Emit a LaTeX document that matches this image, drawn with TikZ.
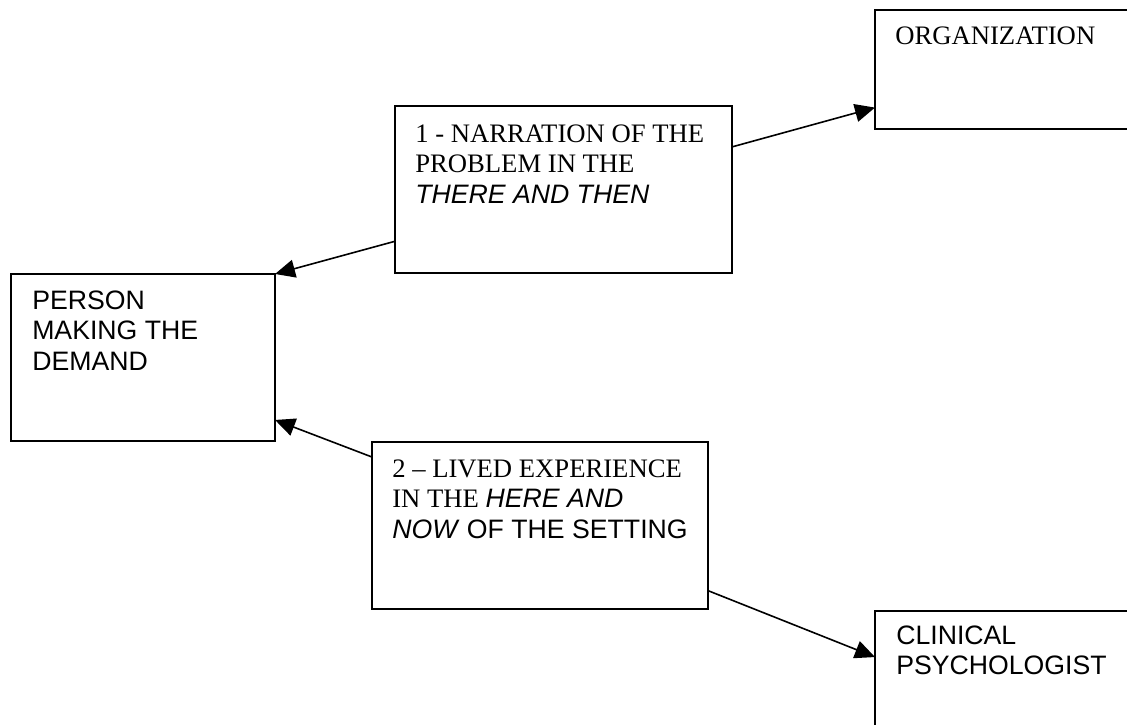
\documentclass[tikz,border=0pt]{standalone}
\usepackage{fontspec}
\setmainfont{Liberation Serif}
\setsansfont{Liberation Sans}
\usetikzlibrary{arrows.meta,calc}
\begin{document}
\begin{tikzpicture}[x=0.75pt,y=-0.75pt,
  box/.style={draw, line width=1.2pt, rectangle, inner sep=0pt, outer sep=0pt, anchor=north west},
  txt/.style={anchor=base west, inner sep=0pt, font=\fontsize{20pt}{22.9pt}\selectfont},
  arr/.style={line width=1.2pt, -{Triangle[length=15pt,width=13.5pt]}}]
\useasboundingbox (0,0) rectangle (1127,724);
\clip (0,0) rectangle (1127,724);
% boxes
\node[box, minimum width=198.75pt, minimum height=89.25pt] (org) at (875,10) {};
\node[box, minimum width=252.75pt, minimum height=125.25pt] (nar) at (395,106) {};
\node[box, minimum width=198pt, minimum height=125.25pt] (per) at (11,274) {};
\node[box, minimum width=252pt, minimum height=125.25pt] (liv) at (372,442) {};
\node[box, minimum width=198.75pt, minimum height=96.75pt] (cli) at (875,611) {};
% texts
\node[txt] (orgt) at (895,45) {\parbox[t]{190pt}{ORGANIZATION}};
\node[txt] (nart) at (415,142) {\parbox[t]{240pt}{1 - NARRATION OF THE\\PROBLEM IN THE\\\textsf{\itshape THERE AND THEN}}};
\node[txt] (pert) at (32,309) {\parbox[t]{190pt}{\sffamily PERSON\\MAKING THE\\DEMAND}};
\node[txt] (livt) at (392,477) {\parbox[t]{240pt}{2 – LIVED EXPERIENCE\\IN THE \textsf{\itshape HERE AND}\\\textsf{\itshape NOW}\textsf{ OF THE SETTING}}};
\node[txt] (clit) at (896,644) {\parbox[t]{190pt}{\sffamily CLINICAL\\PSYCHOLOGIST}};
% connectors
\draw[arr] ($(nar.north west)!0.81!(nar.south west)$) -- (per.north east);
\draw[arr] ($(nar.north east)!0.245!(nar.south east)$) -- ($(org.north west)!0.82!(org.south west)$);
\draw[arr] ($(liv.north west)!0.09!(liv.south west)$) -- ($(per.north east)!0.874!(per.south east)$);
\draw[arr] ($(liv.north east)!0.89!(liv.south east)$) -- ($(cli.north west)!0.357!(cli.south west)$);
\end{tikzpicture}
\end{document}
